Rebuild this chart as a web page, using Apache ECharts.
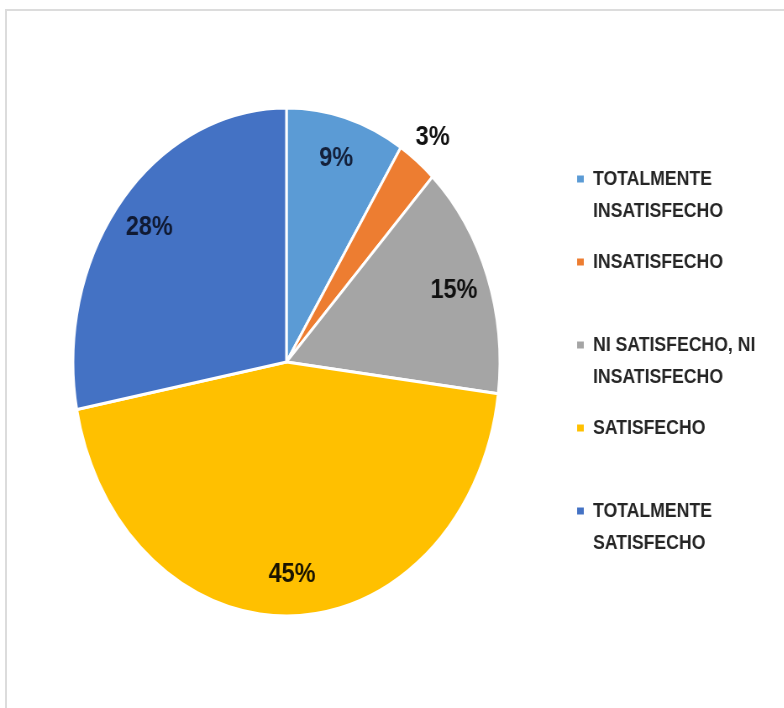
<!DOCTYPE html>
<html>
<head>
<meta charset="utf-8">
<script src="https://cdn.jsdelivr.net/npm/echarts@6/dist/echarts.min.js"></script>
<style>
  html, body { margin: 0; padding: 0; background: #ffffff; overflow: hidden; }
  #page { position: relative; width: 784px; height: 708px; overflow: hidden; }
  #frame {
    position: absolute; left: 5px; top: 9px; width: 900px; height: 900px;
    border-left: 2px solid #dcdcdc; border-top: 2px solid #dcdcdc; box-sizing: border-box;
  }
  /* the chart is laid out wider and squeezed horizontally into the page */
  #chart {
    position: absolute; left: 0; top: 0; width: 934px; height: 708px;
    transform: scaleX(0.84); transform-origin: 0 0;
  }
</style>
</head>
<body>
<div id="page">
  <div id="frame"></div>
  <div id="chart"></div>
</div>
<script>
// Survey answers and their shares (%)
const categories = [
  'TOTALMENTE INSATISFECHO',
  'INSATISFECHO',
  'NI SATISFECHO, NI INSATISFECHO',
  'SATISFECHO',
  'TOTALMENTE SATISFECHO'
];
const legendLines = [
  ['TOTALMENTE', 'INSATISFECHO'],
  ['INSATISFECHO'],
  ['NI SATISFECHO, NI', 'INSATISFECHO'],
  ['SATISFECHO'],
  ['TOTALMENTE', 'SATISFECHO']
];
const shares = [9, 3, 15, 45, 28];
const sliceColors = ['#5B9BD5', '#ED7D31', '#A5A5A5', '#FFC000', '#4472C4'];
const labelColors = ['#14203a', '#111111', '#111111', '#1a1400', '#101a33'];
const outsideLabel = [false, true, false, false, false];

const FONT = '"Liberation Sans", Arial, sans-serif';
const CENTER = [341, 362];
const R = 254;
const LINE_H = 32;

// Every legend entry is three lines tall with the first text line in the
// middle row, so the marker sits beside the first line of the text.
function legendEntry(lines) {
  const rows = ['', lines[0], lines[1] || ''];
  return rows.join('\n');
}

const pieData = categories.map((name, i) => ({
  name,
  value: shares[i],
  itemStyle: { color: sliceColors[i] }
}));

function labelRing(radius, pickOutside) {
  return {
    type: 'pie',
    silent: true,
    center: CENTER,
    radius,
    startAngle: 90,
    clockwise: true,
    avoidLabelOverlap: false,
    emphasis: { disabled: true },
    tooltip: { show: false },
    itemStyle: { color: 'rgba(0,0,0,0)', borderWidth: 0 },
    labelLine: { show: false },
    data: categories.map((name, i) => ({
      name,
      value: shares[i],
      label: {
        show: outsideLabel[i] === pickOutside,
        position: 'inside',
        formatter: '{c}%',
        color: labelColors[i],
        fontFamily: FONT,
        fontWeight: 'bold',
        fontSize: 28
      }
    }))
  };
}

const chart = echarts.init(document.getElementById('chart'), null, { renderer: 'canvas' });

chart.setOption({
  backgroundColor: 'transparent',
  animation: false,
  legend: {
    orient: 'vertical',
    left: 687,
    top: 131,
    padding: 0,
    itemGap: -13,
    itemWidth: 8,
    itemHeight: 7,
    icon: 'rect',
    selectedMode: false,
    formatter: name => legendEntry(legendLines[categories.indexOf(name)]),
    textStyle: {
      fontFamily: FONT,
      fontWeight: 'bold',
      fontSize: 21,
      lineHeight: LINE_H,
      color: '#262626',
      padding: [0, 0, 0, 6]
    },
    data: categories.map((name, i) => ({
      name,
      itemStyle: { color: sliceColors[i], borderWidth: 0 }
    }))
  },
  series: [
    {
      type: 'pie',
      center: CENTER,
      radius: R,
      startAngle: 90,
      clockwise: true,
      label: { show: false },
      labelLine: { show: false },
      emphasis: { disabled: true },
      itemStyle: { borderColor: '#ffffff', borderWidth: 3 },
      data: pieData
    },
    labelRing([164, 254], false),
    labelRing([262, 300], true)
  ]
});
</script>
</body>
</html>
